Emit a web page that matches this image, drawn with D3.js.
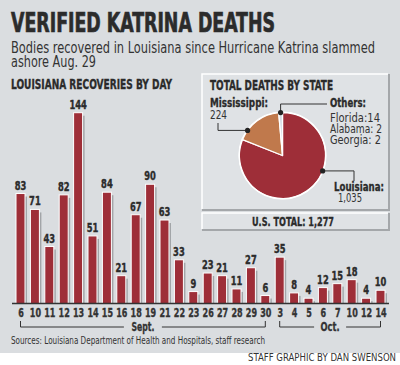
<!DOCTYPE html>
<html><head><meta charset="utf-8">
<script src="https://cdn.jsdelivr.net/npm/d3@7"></script>
<style>body{margin:0;background:#fff}svg{display:block}</style></head>
<body>
<svg id="c" width="400" height="365"></svg>
<script>
// ---- data ----
const dates = ["6","10","11","12","13","14","15","16","18","19","21","22","23","26","27","28","29","30","3","4","5","6","7","10","12","14"];
const recoveries = [83,71,43,82,144,51,84,21,67,90,63,33,9,23,21,11,27,6,35,8,4,12,15,18,4,10];
const monthNames = ["Sept.","Oct."];
const monthStart = [0,18];
const monthEnd = [17,25];
const states = ["Louisiana","Mississippi","Others"];
const stateDeaths = [1035,224,18];
const otherStates = ["Florida:14","Alabama: 2","Georgia: 2"];
const usTotal = 1277;

const NARROW = "'Liberation Sans Narrow','DejaVu Sans Condensed','Arial Narrow',sans-serif";
const INK = "#2b2b2b";
const RED = "#9e2e38";
const TAN = "#c0794c";
const OTHER = "#d6dce4";
const BG = "#dadde0";
const SHADOW = "#a2a5a8";

const svg = d3.select("#c");
svg.append("rect").attr("width",400).attr("height",353).attr("fill",BG);

function fit(t,len){ if(len) t.attr("textLength",len).attr("lengthAdjust","spacingAndGlyphs"); return t; }
function txt(x,y,s,o){
  const t = svg.append("text").attr("x",x).attr("y",y).text(s)
    .attr("font-family",o.f||NARROW).attr("font-size",o.size)
    .attr("font-weight",o.w||"normal").attr("fill",o.c||INK);
  fit(t,o.len);
  if(o.anchor) t.attr("text-anchor",o.anchor);
  if(o.stroke) t.attr("stroke",o.c||INK).attr("stroke-width",o.stroke);
  return t;
}

// ---- titles ----
txt(11,32,"VERIFIED KATRINA DEATHS",{size:26,w:"bold",len:264,stroke:0.7});
txt(11,53,"Bodies recovered in Louisiana since Hurricane Katrina slammed",{size:15,len:364,c:"#333"});
txt(11,67,"ashore Aug. 29",{size:15,len:85,c:"#333"});
txt(11,89,"LOUISIANA RECOVERIES BY DAY",{size:14,w:"bold",len:161,stroke:0.35});

// ---- bar chart ----
const base = 303.5;
const x = d3.scalePoint().domain(d3.range(dates.length)).range([20.5,380.5]);
const y = d3.scaleLinear().domain([0,144]).range([base,112.7]);
const bw = 9;

const bars = svg.append("g");
bars.selectAll("rect.sh").data(recoveries).join("rect").attr("class","sh")
  .attr("x",(d,i)=>x(i)-bw/2+2).attr("y",d=>y(d)+3)
  .attr("width",bw).attr("height",d=>Math.max(0,base-y(d)-3)).attr("fill",SHADOW);
bars.selectAll("rect.b").data(recoveries).join("rect").attr("class","b")
  .attr("x",(d,i)=>x(i)-bw/2).attr("y",d=>y(d))
  .attr("width",bw).attr("height",d=>base-y(d))
  .attr("fill",RED).attr("stroke","#fff").attr("stroke-width",1);
bars.selectAll("text").data(recoveries).join("text")
  .attr("x",(d,i)=>x(i)).attr("y",d=>y(d)-4).attr("text-anchor","middle")
  .attr("font-family",NARROW).attr("font-weight","bold").attr("font-size",12.5)
  .attr("fill",INK).attr("stroke",INK).attr("stroke-width",0.4)
  .attr("textLength",d=>String(d).length*5.8).attr("lengthAdjust","spacingAndGlyphs")
  .text(d=>d);

svg.append("line").attr("x1",12).attr("x2",389).attr("y1",base).attr("y2",base)
  .attr("stroke","#333").attr("stroke-width",1.6);

const ax = svg.append("g").attr("transform",`translate(0,${base})`)
  .call(d3.axisBottom(x).tickSize(0).tickFormat(i=>dates[i]));
ax.select(".domain").remove();
ax.selectAll("text").attr("y",13).attr("dy",0).attr("font-family",NARROW)
  .attr("font-weight","bold").attr("font-size",12).attr("fill","#333")
  .attr("stroke","#333").attr("stroke-width",0.35)
  .attr("textLength",function(){return this.textContent.length*5.6;})
  .attr("lengthAdjust","spacingAndGlyphs");

// month brackets
const by = 327;
const monthLen = [23,19];
monthNames.forEach((m,k)=>{
  const x0 = x(monthStart[k]), x1 = x(monthEnd[k]), cx=(x0+x1)/2, gap = k===0?19:16;
  const p = d3.path();
  p.moveTo(x0,321); p.lineTo(x0,by); p.lineTo(cx-gap,by);
  p.moveTo(cx+gap,by); p.lineTo(x1,by); p.lineTo(x1,321);
  svg.append("path").attr("d",p.toString()).attr("fill","none").attr("stroke","#333").attr("stroke-width",1);
  txt(cx,331,m,{size:12,w:"bold",anchor:"middle",c:"#333",stroke:0.3,len:monthLen[k]});
});

txt(11,344,"Sources: Louisiana Department of Health and Hospitals, staff research",{size:10.5,len:254,c:"#333"});
txt(248,361,"STAFF GRAPHIC BY DAN SWENSON",{size:11,len:148,c:"#333"});

// ---- pie panel ----
function box(x0,y0,w,h){
  svg.append("rect").attr("x",x0).attr("y",y0).attr("width",w).attr("height",h).attr("fill","#dfe2e5");
  svg.append("path").attr("d",`M${x0+w+1},${y0} V${y0+h+1} H${x0}`).attr("fill","none")
    .attr("stroke","#a4a7aa").attr("stroke-width",2);
  svg.append("path").attr("d",`M${x0},${y0+h} V${y0} H${x0+w}`).attr("fill","none")
    .attr("stroke","#fff").attr("stroke-width",1.5);
}
box(202,74,186,135);
box(202,213,186,16);

txt(210,90,"TOTAL DEATHS BY STATE",{size:14,w:"bold",len:123,stroke:0.35});
txt(293,226,"U.S. TOTAL: " + d3.format(",")(usTotal),{size:13,w:"bold",len:82,anchor:"middle",stroke:0.35});

const cx = 282.5, cy = 155.5, r = 43;
const pie = d3.pie().sort(null).value(d=>d)(stateDeaths);
const arc = d3.arc().innerRadius(0).outerRadius(r);
const pg = svg.append("g").attr("transform",`translate(${cx},${cy})`);
pg.selectAll("path").data(pie).join("path").attr("d",arc)
  .attr("fill",(d,i)=>[RED,TAN,OTHER][i]).attr("stroke","#fff").attr("stroke-width",1.3)
  .attr("stroke-linejoin","round");
pg.append("circle").attr("r",r+0.5).attr("fill","none").attr("stroke","#fff").attr("stroke-width",1.2);

// leaders: angle on the rim for each state's dot
const leaderAngle = [111, 305.7, (pie[2].startAngle+pie[2].endAngle)/2*180/Math.PI];
const dot = leaderAngle.map(a=>{const t=a*Math.PI/180; return [cx+r*Math.sin(t), cy-r*Math.cos(t)];});
function lead(pts){
  svg.append("path").attr("d",d3.line()(pts)).attr("fill","none").attr("stroke","#333").attr("stroke-width",1);
}
lead([dot[0],[354,dot[0][1]],[354,181]]);
lead([[218,123],[218,dot[1][1]],dot[1]]);
lead([dot[2],[dot[2][0],104],[327,104]]);
dot.forEach(p=>svg.append("circle").attr("cx",p[0]).attr("cy",p[1]).attr("r",2.6).attr("fill","#222"));

const fmt = d3.format(",");
txt(210,107,states[1]+":",{size:12,w:"bold",stroke:0.3,len:58});
txt(210,119,fmt(stateDeaths[1]),{size:12,c:"#333",len:17});
txt(330,107,states[2]+":",{size:12,w:"bold",stroke:0.3,len:36});
const otherLen = [50,52,51];
otherStates.forEach((s,i)=>txt(330,121.5+i*11.3,s,{size:12,c:"#333",len:otherLen[i]}));
txt(334,191,states[0]+":",{size:12,w:"bold",stroke:0.3,len:50});
txt(338,202,fmt(stateDeaths[0]),{size:12,c:"#333",len:24});
</script>
</body></html>
